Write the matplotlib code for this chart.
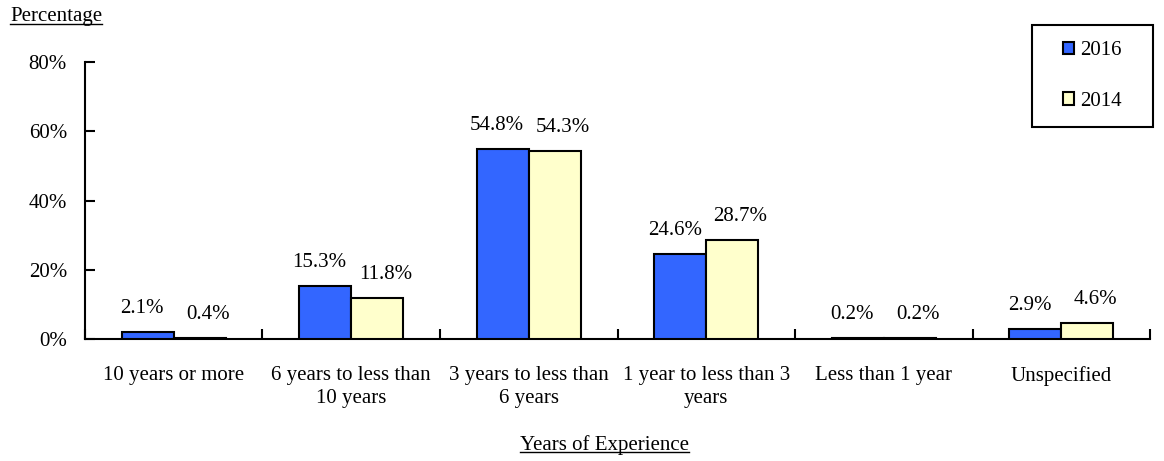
import numpy as np
import matplotlib
matplotlib.use("Agg")
import matplotlib.pyplot as plt
from matplotlib.lines import Line2D
from matplotlib.patches import Rectangle
from matplotlib.ticker import FixedLocator, FuncFormatter

plt.rcParams['font.family'] = ['Liberation Serif', 'DejaVu Serif']

categories = ["10 years or more", "6 years to less than\n10 years", "3 years to less than\n6 years",
              "1 year to less than 3\nyears", "Less than 1 year", "Unspecified"]
series_names = ["2016", "2014"]
values_2016 = [2.1, 15.3, 54.8, 24.6, 0.2, 2.9]
values_2014 = [0.4, 11.8, 54.3, 28.7, 0.2, 4.6]
colors = ["#3366FF", "#FFFFCC"]
fs = 15

fig = plt.figure(figsize=(11.64, 4.61), dpi=100)
ax = fig.add_axes([0.073, 0.2646, 0.915, 0.6009])

x = np.arange(len(categories))
w = 0.293
label_dx = [-4, 6]  # nudge labels apart like the original
bars = []
for i, (vals, name) in enumerate(zip([values_2016, values_2014], series_names)):
    b = ax.bar(x + (i - 0.5) * w, vals, w, color=colors[i], edgecolor="black",
               linewidth=1.5, label=name, zorder=3)
    bars.append(b)
    for xi, v in zip(x + (i - 0.5) * w, vals):
        ax.annotate(f"{v:.1f}%", (xi, v), xytext=(label_dx[i], 17), textcoords="offset points",
                    ha="center", va="center", fontsize=fs)

ax.set_xlim(-0.5, len(categories) - 0.5)
ax.set_ylim(0, 80)
ax.set_yticks([0, 20, 40, 60, 80])
ax.yaxis.set_major_formatter(FuncFormatter(lambda v, p: f"{v:.0f}%"))
ax.set_xticks(x)
ax.set_xticklabels(categories, fontsize=fs, linespacing=1.3)
ax.xaxis.set_minor_locator(FixedLocator(np.arange(len(categories) + 1) - 0.5))
ax.tick_params(axis="x", which="major", length=0, pad=19.5)
ax.tick_params(axis="x", which="minor", direction="in", length=7, width=1.5)
ax.tick_params(axis="y", direction="in", length=7, width=1.5, labelsize=fs, pad=13)

for s in ["top", "right"]:
    ax.spines[s].set_visible(False)
for s in ["left", "bottom"]:
    ax.spines[s].set_linewidth(1.5)

# legend box drawn separately to get the wide padding
W, H = 1164, 461
fig.add_artist(Rectangle((1032 / W, 1 - 127 / H), 121 / W, 102 / H, transform=fig.transFigure,
                         facecolor="white", edgecolor="black", linewidth=1.5, zorder=4))
leg = fig.legend(handles=bars, labels=series_names, loc="center",
                 bbox_to_anchor=(1092.5 / W, 1 - 76 / H), fontsize=fs,
                 frameon=False, handlelength=0.55, handleheight=0.55, handletextpad=0.3,
                 labelspacing=1.5, borderpad=0, borderaxespad=0)
leg.set_zorder(5)

t1 = fig.text(10 / W, 1 - 17 / H, "Percentage", fontsize=fs, ha="left", va="center")
t2 = fig.text(604 / W, 1 - 445 / H, "Years of Experience", fontsize=fs, ha="center", va="center")

fig.canvas.draw()
r = fig.canvas.get_renderer()
for t in [t1, t2]:
    bb = t.get_window_extent(r).transformed(fig.transFigure.inverted())
    y = bb.y0 + 0.006
    fig.add_artist(Line2D([bb.x0, bb.x1], [y, y], transform=fig.transFigure,
                          color="black", linewidth=1))

fig.savefig("out.png", dpi=100)
